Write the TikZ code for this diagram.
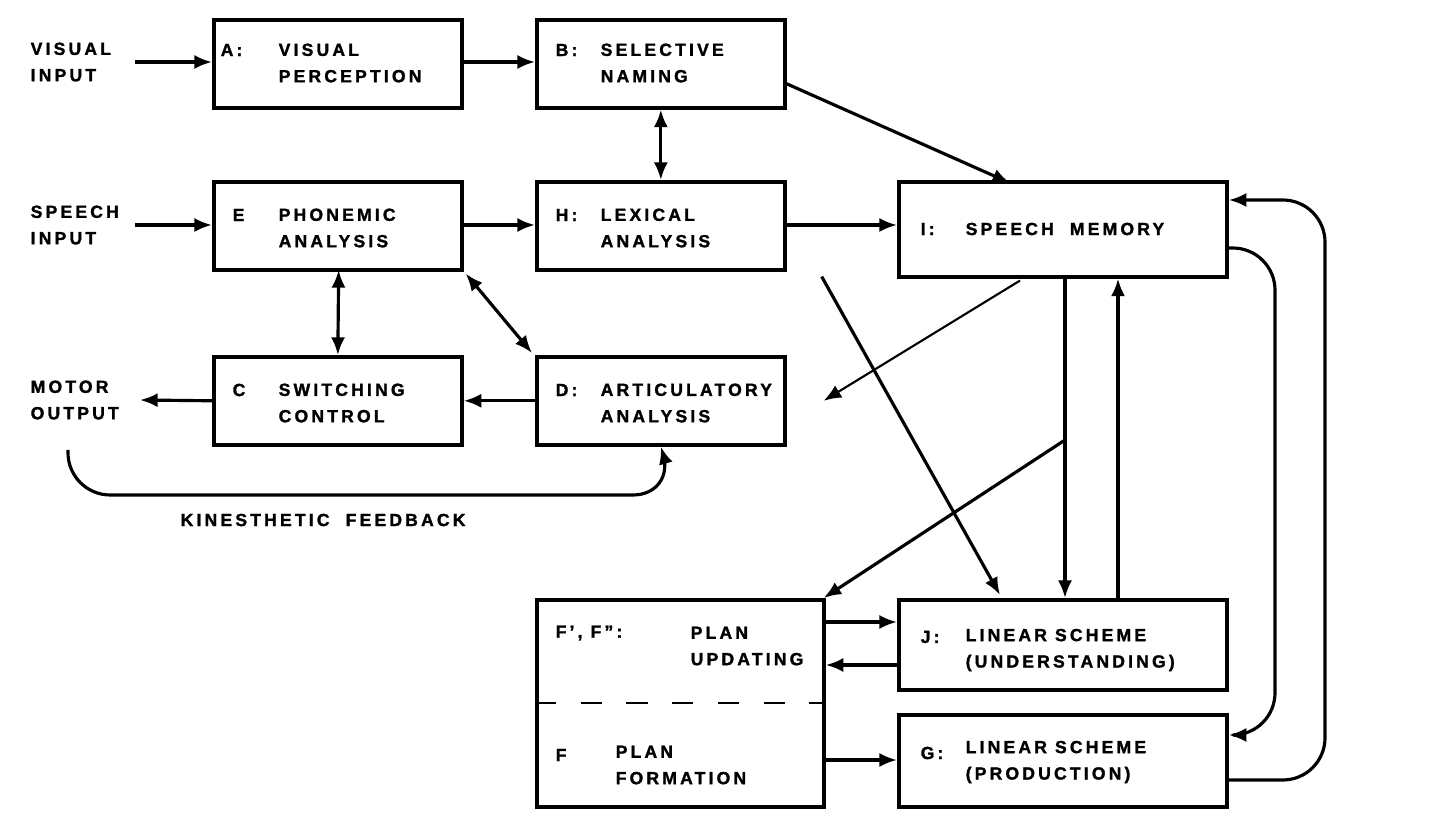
\documentclass[tikz,border=0pt]{standalone}
\usepackage{fontspec}
\setmainfont{Liberation Sans}[LetterSpace=18,FakeBold=1.5]
\usetikzlibrary{arrows.meta,calc}
\tikzset{
  blk/.style={draw,line width=1pt,minimum width=2.48cm,minimum height=0.88cm,anchor=north west,inner sep=0pt},
  txt/.style={font=\fontsize{5}{7.5}\selectfont\bfseries,align=left,anchor=west,inner sep=0pt},
  tx2/.style={txt,yshift=-0.13cm},
  fl/.style={line width=0.9pt,-{Latex[length=5pt,width=4pt]}},
  bl/.style={line width=0.9pt,{Latex[length=5pt,width=4pt]}-{Latex[length=5pt,width=4pt]}}
}
\begin{document}
\begin{tikzpicture}[x=0.01cm,y=-0.01cm]
\useasboundingbox (0,0) rectangle (1446,828);
% blocks
\node[blk] (A) at (212,18) {};
\node[blk] (B) at (535,18) {};
\node[blk] (E) at (212,180) {};
\node[blk] (H) at (535,180) {};
\node[blk,minimum width=3.28cm,minimum height=0.95cm] (I) at (897,180) {};
\node[blk] (C) at (212,355) {};
\node[blk] (D) at (535,355) {};
\node[blk,minimum width=2.87cm,minimum height=2.07cm] (F) at (535,598) {};
\node[blk,minimum width=3.28cm,minimum height=0.9cm] (J) at (897,598) {};
\node[blk,minimum width=3.28cm,minimum height=0.92cm] (G) at (897,713) {};
\draw[dashed,line width=0.8pt,dash pattern=on 6pt off 7pt] (F.west|-0,703) -- (F.east|-0,703);
% texts
\node[txt] at (220,50) {A:};\node[tx2] at (278,50) {VISUAL\\PERCEPTION};
\node[txt] at (555,50) {B:};\node[tx2] at (600,50) {SELECTIVE\\NAMING};
\node[txt] at (232,215) {E};\node[tx2] at (278,215) {PHONEMIC\\ANALYSIS};
\node[txt] at (555,215) {H:};\node[tx2] at (600,215) {LEXICAL\\ANALYSIS};
\node[txt] at (920,229) {I:};\node[txt] at (965,229) {SPEECH\ \ MEMORY};
\node[txt] at (232,390) {C};\node[tx2] at (278,390) {SWITCHING\\CONTROL};
\node[txt] at (555,390) {D:};\node[tx2] at (600,390) {ARTICULATORY\\ANALYSIS};
\node[txt] at (555,633) {F', F'':};\node[tx2] at (690,633) {PLAN\\UPDATING};
\node[txt] at (555,755) {F};\node[tx2] at (615,752) {PLAN\\FORMATION};
\node[txt] at (920,637) {J:};\node[tx2] at (965,637) {LINEAR SCHEME\\(UNDERSTANDING)};
\node[txt] at (920,753) {G:};\node[tx2] at (965,749) {LINEAR SCHEME\\(PRODUCTION)};
\node[txt] (vis) at (30,62) {VISUAL\\INPUT};
\node[txt] (sp) at (30,225) {SPEECH\\INPUT};
\node[txt] (mo) at (30,400) {MOTOR\\OUTPUT};
\node[txt] (kin) at (180,520) {KINESTHETIC\ \ FEEDBACK};
% connectors
\coordinate (vi) at (135,62);
\coordinate (si) at (135,225);
\coordinate (mi) at (140,400);
\coordinate (fb) at (68,450);
\coordinate (br) at (1065,440);
\draw[fl] (vi) -- (A.west|-vi);
\draw[fl] (A.east|-vi) -- (B.west|-vi);
\draw[fl] ($(B.east)+(0,20)$) -- (1010,183);
\draw[bl] (B.south) -- (H.north);
\draw[fl] (si) -- (E.west|-si);
\draw[fl] (E.east|-si) -- (H.west|-si);
\draw[fl] (H.east|-si) -- (I.west|-si);
\draw[bl] (E.south east|-0,270) ++(-125,0) -- ($(C.north)$);
\draw[bl] ($(E.south east)+(2,2)$) -- ($(D.north west)+(-3,-2)$);
\draw[fl] (D.west) -- (C.east);
\draw[fl] (C.west) -- (mi);
\draw[fl,rounded corners=12pt] (fb) -- (68,495) -- (675,495) -- (D.south);
\draw[fl] ($(H.south east)+(35,5)$) -- ($(J.north west)+(103,-3)$);
\draw[fl,line width=0.6pt] ($(I.south west)+(123,2)$) -- ($(D.east)+(37,0)$);
\draw[fl] (I.south-|br) -- (J.north-|br);
\draw[fl] (J.north-|1118,0) -- (I.south-|1118,0);
\draw[fl] (br) -- ($(F.north east)+(-2,0)$);
\draw[fl] (F.east|-0,622) -- (J.west|-0,622);
\draw[fl] (J.west|-0,665) -- (F.east|-0,665);
\draw[fl] (F.east|-0,760) -- (G.west|-0,760);
\draw[fl,rounded corners=12pt] (I.east|-0,248) -- (1275,248) -- (1275,735) -- (G.east|-0,735);
\draw[fl,rounded corners=12pt] (G.east|-0,780) -- (1325,780) -- (1325,200) -- (I.east|-0,200);
\end{tikzpicture}
\end{document}
